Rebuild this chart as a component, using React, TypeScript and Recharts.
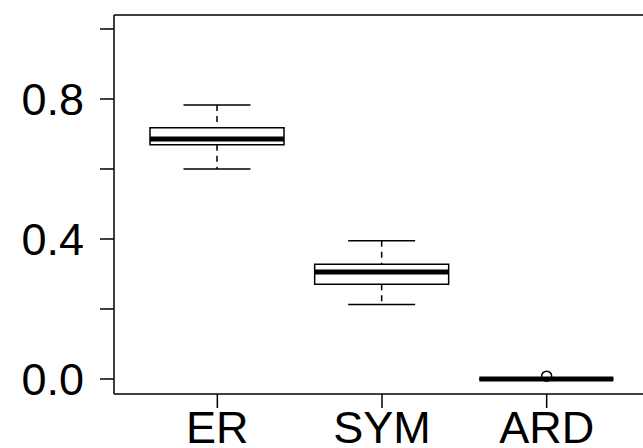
import { ComposedChart, Bar, Scatter, XAxis, YAxis } from 'recharts';

const groups = ['ER', 'SYM', 'ARD'];
const lowWhisker = [0.6, 0.213, 0];
const lowerQuartile = [0.669, 0.271, 0];
const medians = [0.686, 0.306, 0];
const upperQuartile = [0.718, 0.328, 0];
const highWhisker = [0.783, 0.395, 0];
const outliers: (number | null)[] = [null, null, 0.008];
const yTicks = [0, 0.2, 0.4, 0.6, 0.8, 1.0];
const yLabels = ['0.0', '', '0.4', '', '0.8', ''];

const data = groups.map((name, i) => ({
  name,
  base: lowWhisker[i],
  lowW: lowerQuartile[i] - lowWhisker[i],
  lowBox: medians[i] - lowerQuartile[i],
  highBox: upperQuartile[i] - medians[i],
  highW: highWhisker[i] - upperQuartile[i],
  outlier: outliers[i],
}));

const font = '"Liberation Sans", Arial, sans-serif';

// whisker below the box: dashed stem, cap at the bottom
const LowWhisker = (p: any) => {
  const cx = p.x + p.width / 2;
  const half = p.width / 4;
  return (
    <g>
      <line x1={cx} x2={cx} y1={p.y} y2={p.y + p.height} stroke="#000" strokeWidth={1.5} strokeDasharray="6 5" />
      <line x1={cx - half} x2={cx + half} y1={p.y + p.height} y2={p.y + p.height} stroke="#000" strokeWidth={1.5} />
    </g>
  );
};

const HighWhisker = (p: any) => {
  const cx = p.x + p.width / 2;
  const half = p.width / 4;
  return (
    <g>
      <line x1={cx} x2={cx} y1={p.y} y2={p.y + p.height} stroke="#000" strokeWidth={1.5} strokeDasharray="6 5" />
      <line x1={cx - half} x2={cx + half} y1={p.y} y2={p.y} stroke="#000" strokeWidth={1.5} />
    </g>
  );
};

// lower half of the box, with the median drawn on its top edge
const LowBox = (p: any) => (
  <g>
    <path d={`M${p.x},${p.y} V${p.y + p.height} H${p.x + p.width} V${p.y}`} fill="none" stroke="#000" strokeWidth={1.5} />
    <line x1={p.x} x2={p.x + p.width} y1={p.y} y2={p.y} stroke="#000" strokeWidth={5} />
  </g>
);

const HighBox = (p: any) => (
  <path d={`M${p.x},${p.y + p.height} V${p.y} H${p.x + p.width} V${p.y + p.height}`} fill="none" stroke="#000" strokeWidth={1.5} />
);

export default function App() {
  return (
    <div style={{ position: 'fixed', left: 0, top: 0, width: 643, height: 448, overflow: 'hidden', background: '#fff' }}>
      <ComposedChart width={660} height={470} data={data} margin={{ top: 14, right: 10, bottom: 0, left: 0 }}>
        <XAxis
          dataKey="name"
          padding={{ left: 21, right: 21 }}
          height={76}
          tickSize={14}
          tickMargin={3}
          axisLine={{ stroke: '#000', strokeWidth: 1.5 }}
          tickLine={{ stroke: '#000', strokeWidth: 1.5 }}
          tick={{ fill: '#000', fontSize: 45, fontFamily: font }}
        />
        <XAxis
          xAxisId="top"
          dataKey="name"
          orientation="top"
          height={1}
          tick={false}
          tickLine={false}
          axisLine={{ stroke: '#000', strokeWidth: 1.5 }}
        />
        <YAxis
          type="number"
          domain={[-0.0429, 1.04]}
          ticks={yTicks}
          tickFormatter={(v: number) => yLabels[yTicks.indexOf(v)] ?? ''}
          width={114}
          tickSize={14}
          tickMargin={16}
          interval={0}
          axisLine={{ stroke: '#000', strokeWidth: 1.5 }}
          tickLine={{ stroke: '#000', strokeWidth: 1.5 }}
          tick={{ fill: '#000', fontSize: 45, fontFamily: font }}
        />
        <Bar dataKey="base" stackId="b" fill="none" barSize={134} isAnimationActive={false} />
        <Bar dataKey="lowW" stackId="b" barSize={134} shape={LowWhisker} isAnimationActive={false} />
        <Bar dataKey="lowBox" stackId="b" barSize={134} shape={LowBox} isAnimationActive={false} />
        <Bar dataKey="highBox" stackId="b" barSize={134} shape={HighBox} isAnimationActive={false} />
        <Bar dataKey="highW" stackId="b" barSize={134} shape={HighWhisker} isAnimationActive={false} />
        <Scatter dataKey="outlier" isAnimationActive={false} shape={(p: any) => (p.cy == null ? <g /> : <circle cx={p.cx} cy={p.cy} r={5} fill="none" stroke="#000" strokeWidth={1.5} />)} />
      </ComposedChart>
    </div>
  );
}
